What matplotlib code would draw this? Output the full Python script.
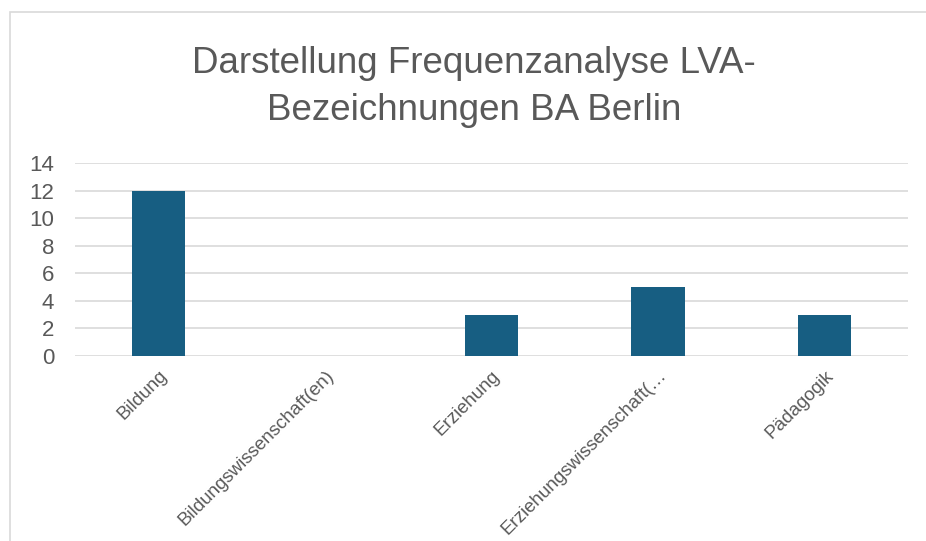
import matplotlib.pyplot as plt
from matplotlib.patches import Rectangle

categories = ['Bildung', 'Bildungswissenschaft(en)', 'Erziehung',
              'Erziehungswissenschaft(…', 'Pädagogik']
counts = [12, 0, 3, 5, 3]
yticks = [0, 2, 4, 6, 8, 10, 12, 14]

plt.rcParams['font.family'] = ['Liberation Sans', 'DejaVu Sans']
grey = '#595959'

W, H = 926, 541
fig = plt.figure(figsize=(W / 100, H / 100), dpi=100)

# outer chart frame (only left and top edges visible)
fig.patches.append(Rectangle((10 / W, -0.1), 1.2, 1 - 12 / H + 0.1,
                             transform=fig.transFigure, fill=False,
                             edgecolor='#d9d9d9', linewidth=1.2))

ax = fig.add_axes([75 / W, 1 - 356 / H, (908 - 75) / W, (356 - 163) / H])
x = range(len(categories))
ax.bar(x, counts, width=0.32, color='#175e82', zorder=3)

ax.set_xlim(-0.5, len(categories) - 0.5)
ax.set_ylim(0, 14)
ax.set_yticks(yticks)
ax.yaxis.grid(True, color='#d9d9d9', linewidth=1.2, zorder=0)
for s in ax.spines.values():
    s.set_visible(False)
ax.tick_params(axis='both', length=0, colors=grey)
ax.tick_params(axis='y', labelsize=16, pad=15)
ax.set_xticks(list(x))
ax.set_xticklabels(categories, rotation=45, ha='right', rotation_mode='anchor',
                   fontsize=13.5, color=grey)
ax.tick_params(axis='x', pad=8)

fig.text(474 / W, 1 - 87 / H,
         'Darstellung Frequenzanalyse LVA-\nBezeichnungen BA Berlin',
         ha='center', va='center', fontsize=26.5, color=grey, linespacing=1.45)

fig.savefig('out.png', dpi=100)
